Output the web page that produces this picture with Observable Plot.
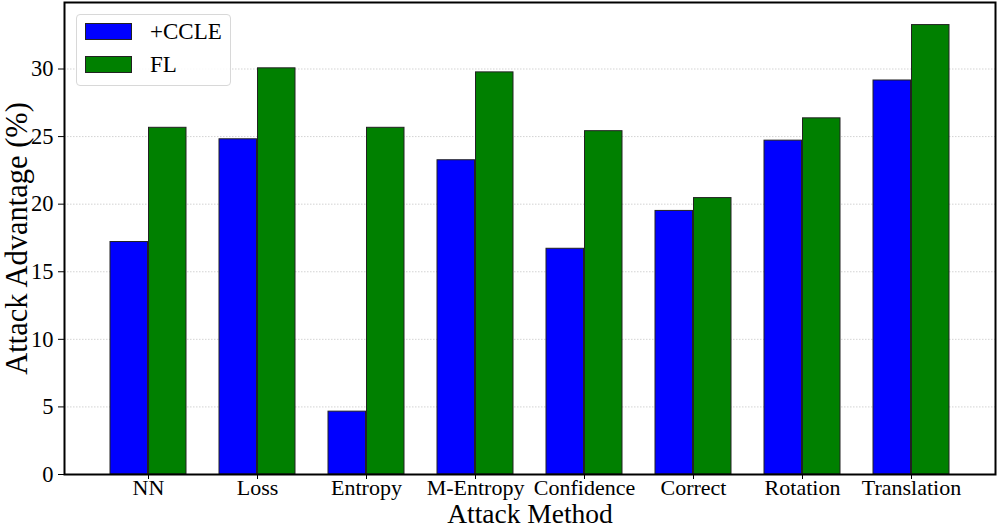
<!DOCTYPE html>
<html><head><meta charset="utf-8">
<script src="https://cdn.jsdelivr.net/npm/d3@7"></script>
<script src="https://cdn.jsdelivr.net/npm/@observablehq/plot@0.6"></script>
<style>
body{margin:0;background:#fff}
#wrap{position:relative;width:997px;height:532px;font-family:"Liberation Serif","Times New Roman",serif}
#legend{position:absolute;left:76px;top:14px;width:155px;height:72px;border:1px solid #d8d8d8;border-radius:4px;background:rgba(255,255,255,0.85);box-sizing:border-box}
.item{position:absolute;left:8px;display:flex;align-items:center;font-size:23px;color:#000;height:17px}
.sw{width:47px;height:17px;border:1px solid #222;box-sizing:border-box;margin-right:18px}
</style></head><body><div id="wrap"><div id="legend"></div></div>
<script>
const methods = ["NN","Loss","Entropy","M-Entropy","Confidence","Correct","Rotation","Translation"];
const seriesNames = ["+CCLE","FL"];
const seriesColors = ["#0000ff","#008000"];
const ccle = [17.2, 24.8, 4.65, 23.25, 16.7, 19.5, 24.7, 29.15];
const fl = [25.65, 30.05, 25.65, 29.75, 25.4, 20.45, 26.35, 33.25];
const yTicks = [0,5,10,15,20,25,30];

const rowsA = methods.map((m,i)=>({method:m, value:ccle[i]}));
const rowsB = methods.map((m,i)=>({method:m, value:fl[i]}));

const chart = Plot.plot({
  width: 997, height: 532,
  marginLeft: 64, marginRight: 2, marginTop: 2, marginBottom: 58,
  style: {fontFamily: '"Liberation Serif","Times New Roman",serif', background: "white", overflow: "visible"},
  x: {domain: methods, paddingInner: 0.3, paddingOuter: 0.382, label: null},
  y: {domain: [0, 34.92], label: null},
  marks: [
    Plot.ruleY(yTicks.slice(1), {stroke: "#c8c8c8", strokeWidth: 0.8, strokeDasharray: "1.5,1.5"}),
    Plot.barY(rowsA, {x: "method", y: "value", fill: seriesColors[0], stroke: "#222", strokeWidth: 1, insetRight: 38.5, insetLeft: 0}),
    Plot.barY(rowsB, {x: "method", y: "value", fill: seriesColors[1], stroke: "#222", strokeWidth: 1, insetLeft: 38.5, insetRight: 0}),
    Plot.axisY({ticks: yTicks, tickSize: 6, tickPadding: 5, fontSize: 22.5, label: null, stroke: "black"}),
    Plot.axisX({tickSize: 5, tickPadding: 0, fontSize: 22, label: null, stroke: "black"}),
    Plot.frame({stroke: "black", strokeWidth: 2}),
    Plot.text(["Attack Method"], {frameAnchor: "bottom", dy: 40, fontSize: 27.5, lineAnchor: "middle", fill: "black"}),
    Plot.text(["Attack Advantage (%)"], {frameAnchor: "left", dx: -47, rotate: -90, fontSize: 30.5, lineAnchor: "middle", textAnchor: "middle", fill: "black"})
  ]
});
const wrap = document.getElementById("wrap");
wrap.insertBefore(chart, wrap.firstChild);

const legend = document.getElementById("legend");
seriesNames.forEach((n,i)=>{
  const d = document.createElement("div");
  d.className = "item";
  d.style.top = (i===0 ? 8 : 41) + "px";
  d.innerHTML = `<div class="sw" style="background:${seriesColors[i]}"></div><span>${n}</span>`;
  legend.appendChild(d);
});
</script>
</body></html>
